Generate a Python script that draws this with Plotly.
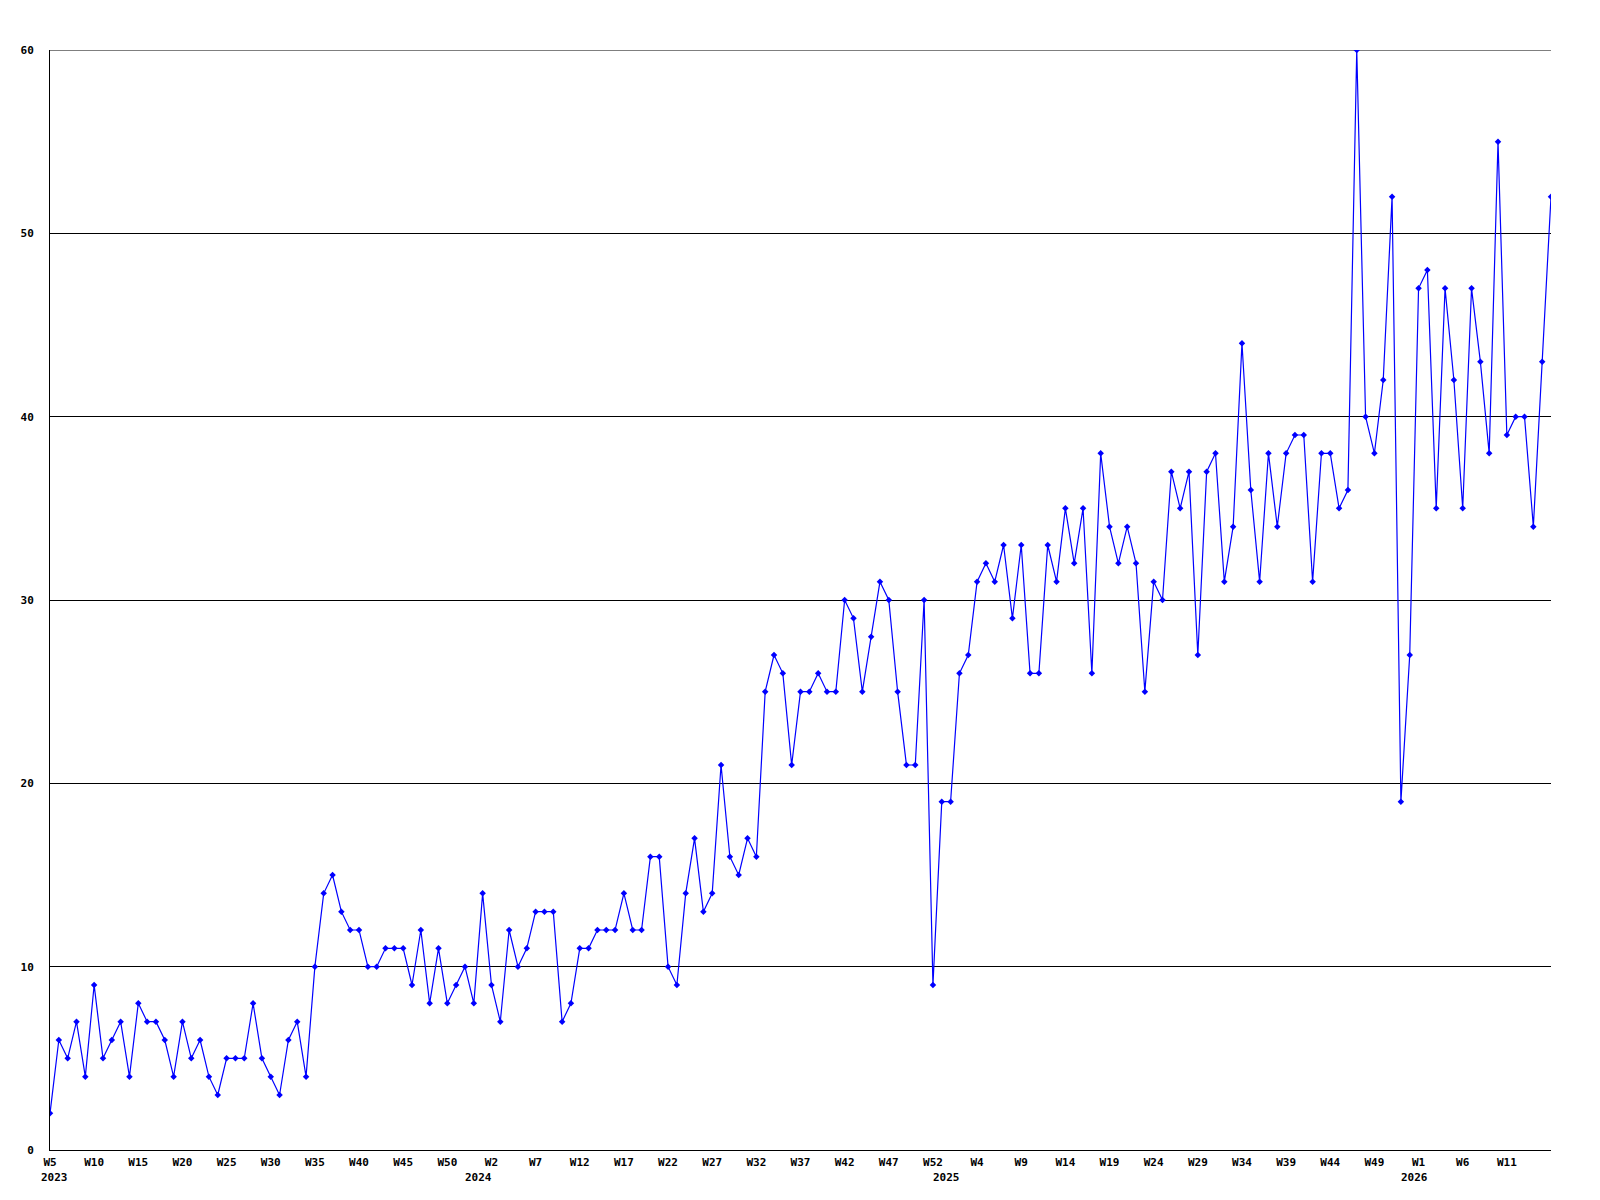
import plotly.graph_objects as go

# Weekly counts, split by year (week numbering starts at W0 for each new year)
weeks_2023 = list(range(5, 53))
values_2023 = [2, 6, 5, 7, 4, 9, 5, 6, 7, 4,
               8, 7, 7, 6, 4, 7, 5, 6, 4, 3,
               5, 5, 5, 8, 5, 4, 3, 6, 7, 4,
               10, 14, 15, 13, 12, 12, 10, 10, 11, 11,
               11, 9, 12, 8, 11, 8, 9, 10]
weeks_2024 = list(range(0, 53))
values_2024 = [8, 14,
               9, 7, 12, 10, 11, 13, 13, 13, 7, 8,
               11, 11, 12, 12, 12, 14, 12, 12, 16, 16,
               10, 9, 14, 17, 13, 14, 21, 16, 15, 17,
               16, 25, 27, 26, 21, 25, 25, 26, 25, 25,
               30, 29, 25, 28, 31, 30, 25, 21, 21, 30,
               9]
weeks_2025 = list(range(0, 53))
values_2025 = [19, 19, 26, 27, 31, 32, 31, 33, 29,
               33, 26, 26, 33, 31, 35, 32, 35, 26, 38,
               34, 32, 34, 32, 25, 31, 30, 37, 35, 37,
               27, 37, 38, 31, 34, 44, 36, 31, 38, 34,
               38, 39, 39, 31, 38, 38, 35, 36, 60, 40,
               38, 42, 52, 19]
weeks_2026 = list(range(0, 17))
values_2026 = [27, 47, 48, 35, 47, 42, 35, 47, 43, 38,
               55, 39, 40, 40, 34, 43, 52]

years = ["2023", "2024", "2025", "2026"]
tick_labels = ["W5", "W10", "W15", "W20", "W25", "W30", "W35", "W40", "W45", "W50",
               "W2", "W7", "W12", "W17", "W22", "W27", "W32", "W37", "W42", "W47", "W52",
               "W4", "W9", "W14", "W19", "W24", "W29", "W34", "W39", "W44", "W49",
               "W1", "W6", "W11"]
y_ticks = [0, 10, 20, 30, 40, 50, 60]

values = values_2023 + values_2024 + values_2025 + values_2026
x = list(range(len(values)))
tick_vals = [i * 5 for i in range(len(tick_labels))]
year_starts = [0, len(values_2023), len(values_2023) + len(values_2024),
               len(values_2023) + len(values_2024) + len(values_2025)]

BLUE = "#0000ff"
FONT = dict(family="DejaVu Sans Mono", size=11, color="black", weight="bold")

fig = go.Figure()
fig.add_trace(go.Scatter(
    x=x, y=values, mode="lines+markers",
    line=dict(color=BLUE, width=1.2),
    marker=dict(symbol="diamond", size=5, color=BLUE, line=dict(width=0)),
    cliponaxis=True, showlegend=False,
))

for yr, pos in zip(years, year_starts):
    fig.add_annotation(x=pos, y=0, xref="x", yref="paper", text=yr,
                       showarrow=False, xanchor="left", yanchor="top",
                       xshift=-11, yshift=-19, font=FONT)

# top gridline (Plotly skips gridlines lying on the plot edge)
fig.add_shape(type="line", xref="paper", x0=0, x1=1, yref="y",
              y0=y_ticks[-1], y1=y_ticks[-1],
              line=dict(color="black", width=1), layer="below")

fig.update_layout(
    width=1600, height=1200,
    margin=dict(l=42, r=57, t=42, b=58, autoexpand=False),
    plot_bgcolor="white", paper_bgcolor="white",
    xaxis=dict(range=[0, len(values) - 1], tickmode="array", tickvals=tick_vals,
               ticktext=tick_labels, showgrid=False, zeroline=False,
               showline=True, linecolor="black", linewidth=1,
               ticks="", tickfont=FONT, ticklabelstandoff=2, automargin=False),
    yaxis=dict(range=[0, 60], tickmode="array", tickvals=y_ticks,
               showgrid=True, gridcolor="black", gridwidth=1, zeroline=False,
               showline=True, linecolor="black", linewidth=1,
               ticks="", tickfont=FONT, ticklabelstandoff=13, automargin=False),
)

fig.write_html("out.html")
